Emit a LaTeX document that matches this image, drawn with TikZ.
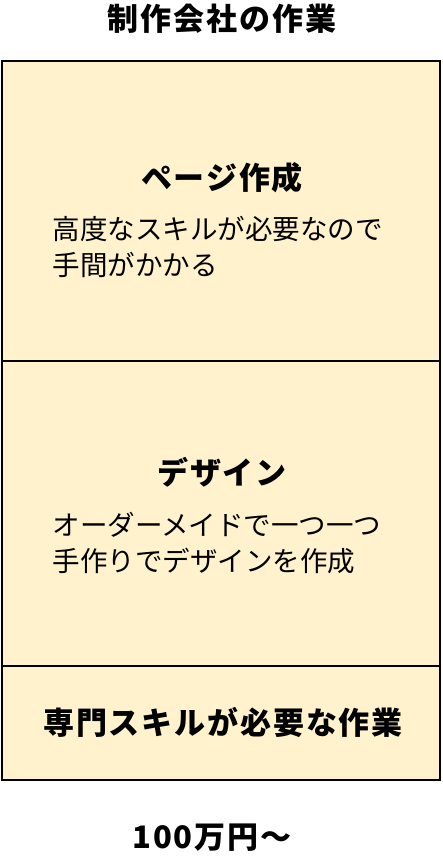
\documentclass[tikz,border=0pt]{standalone}
\usepackage{fontspec}
\setmainfont{Noto Sans CJK JP}
\usepackage{tikz}

\definecolor{boxfill}{HTML}{FFF2CC}
\tikzset{
	panel/.style={draw=black, line width=2.5pt, fill=boxfill, outer sep=0pt, anchor=north west, minimum width=438pt},
	headtext/.style={font=\bfseries\fontsize{31}{36}\selectfont\addfontfeature{LetterSpace=6}},
	bodytext/.style={font=\fontsize{27.5}{36}\selectfont, align=left, anchor=north west},
}

\begin{document}
\begin{tikzpicture}[x=1pt, y=-1pt]
	\useasboundingbox (0,0) rectangle (442,856);
	%\draw[help lines] (0,0) grid[step=50] (442,856);
	\node[headtext] (title) at (222,19) {制作会社の作業};
	\node[panel, minimum height=300pt] (pagebox) at (2,61) {};
	\node[panel, minimum height=305pt] (designbox) at (pagebox.south west) {};
	\node[panel, minimum height=114pt] (skillbox) at (designbox.south west) {};
	\node[headtext] (pagehead) at (222,178) {ページ作成};
	\node[bodytext] (pagebody) at (49,213) {高度なスキルが必要なので\\手間がかかる};
	\node[headtext] (designhead) at (222,472) {デザイン};
	\node[bodytext] (designbody) at (49,509) {オーダーメイドで一つ一つ\\手作りでデザインを作成};
	\node[headtext] (skillhead) at (223,722) {専門スキルが必要な作業};
	\node[headtext] (price) at (212,838) {100万円〜};
\end{tikzpicture}
\end{document}
